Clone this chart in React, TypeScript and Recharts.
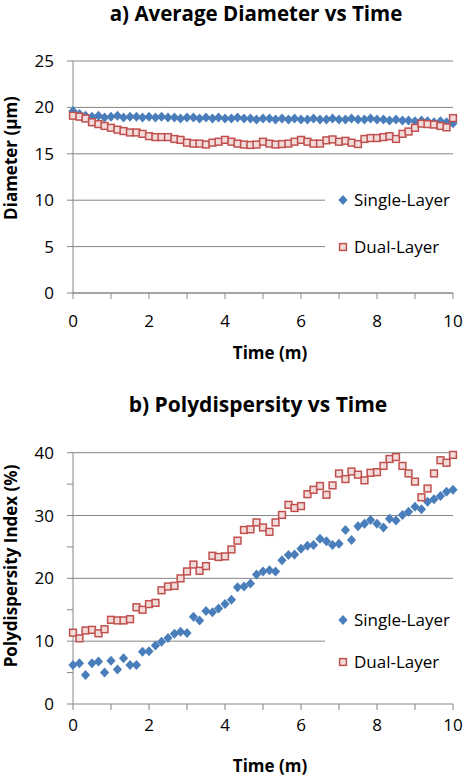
import React from "react";
import {
  CartesianGrid,
  Scatter,
  ScatterChart,
  XAxis,
  YAxis,
} from "recharts";

// time in minutes, sampled every 10 s
const TIMES = [
  0, 0.17, 0.33, 0.5, 0.67, 0.83, 1, 1.17, 1.33, 1.5, 1.67, 1.83, 2, 2.17, 2.33,
  2.5, 2.67, 2.83, 3, 3.17, 3.33, 3.5, 3.67, 3.83, 4, 4.17, 4.33, 4.5, 4.67, 4.83,
  5, 5.17, 5.33, 5.5, 5.67, 5.83, 6, 6.17, 6.33, 6.5, 6.67, 6.83, 7, 7.17, 7.33,
  7.5, 7.67, 7.83, 8, 8.17, 8.33, 8.5, 8.67, 8.83, 9, 9.17, 9.33, 9.5, 9.67, 9.83,
  10,
];

// a) average diameter (µm)
const DIAM_SINGLE = [
  19.6, 19.3, 19.1, 19.0, 19.1, 18.9, 19.0, 19.1, 18.9, 19.0,
  19.0, 18.9, 19.0, 18.9, 19.0, 18.9, 18.9, 18.8, 18.9, 18.9,
  18.8, 18.9, 18.8, 18.9, 18.8, 18.8, 18.9, 18.8, 18.8, 18.7,
  18.8, 18.8, 18.7, 18.8, 18.7, 18.8, 18.7, 18.7, 18.8, 18.7,
  18.7, 18.8, 18.7, 18.7, 18.8, 18.7, 18.7, 18.8, 18.7, 18.7,
  18.6, 18.7, 18.6, 18.6, 18.5, 18.6, 18.5, 18.4, 18.5, 18.4,
  18.3,
];
const DIAM_DUAL = [
  19.1, 19.0, 18.8, 18.4, 18.2, 18.0, 17.8, 17.6, 17.45, 17.3,
  17.3, 17.15, 16.9, 16.8, 16.8, 16.8, 16.6, 16.5, 16.2, 16.1,
  16.1, 16.0, 16.2, 16.3, 16.5, 16.3, 16.1, 16.0, 15.95, 16.0,
  16.3, 16.1, 16.0, 16.05, 16.1, 16.3, 16.5, 16.3, 16.1, 16.1,
  16.45, 16.55, 16.3, 16.4, 16.2, 16.05, 16.6, 16.7, 16.7, 16.8,
  16.9, 16.6, 17.15, 17.4, 17.8, 18.25, 18.2, 18.15, 18.0, 17.85,
  18.85,
];

// b) polydispersity index (%)
const PDI_SINGLE = [
  6.2, 6.5, 4.6, 6.5, 6.75, 5.0, 6.9, 5.5, 7.3, 6.2,
  6.2, 8.3, 8.4, 9.3, 9.9, 10.5, 11.2, 11.5, 11.3, 13.9,
  13.3, 14.8, 14.6, 15.2, 15.9, 16.6, 18.6, 18.7, 19.2, 20.6,
  21.1, 21.3, 21.1, 22.9, 23.7, 23.8, 24.7, 25.2, 25.3, 26.3,
  25.9, 25.3, 25.5, 27.7, 26.1, 28.3, 28.7, 29.3, 28.7, 28.1,
  29.5, 29.2, 30.1, 30.6, 31.4, 31.0, 32.2, 32.6, 33.1, 33.8,
  34.1,
];
const PDI_DUAL = [
  11.35, 10.45, 11.7, 11.8, 11.25, 11.9, 13.4, 13.3, 13.3, 13.5,
  15.4, 15.0, 15.9, 16.1, 18.1, 18.7, 18.8, 20.0, 21.1, 22.2,
  21.2, 21.95, 23.6, 23.4, 23.5, 24.6, 26.0, 27.7, 27.8, 28.9,
  28.1, 27.4, 28.9, 30.1, 31.7, 31.2, 31.5, 33.4, 34.1, 34.7,
  33.3, 34.8, 36.7, 35.8, 37.0, 36.5, 35.6, 36.8, 36.9, 37.9,
  39.0, 39.3, 37.9, 36.7, 35.4, 32.9, 34.3, 36.7, 38.8, 38.4,
  39.65,
];

const X_TICKS = [0, 1, 2, 3, 4, 5, 6, 7, 8, 9, 10];
const DIAM_TICKS = [0, 5, 10, 15, 20, 25];
const PDI_TICKS = [0, 5, 10, 15, 20, 25, 30, 35, 40];
const PDI_GRID = [10, 20, 30, 40];

const SERIES_NAMES = ["Single-Layer", "Dual-Layer"];

const BLUE = "#4a7ebb";
const RED = "#c0504d";
const PINK = "#f2dbdb";
const GRAY = "#868686";
const FONT = "'Open Sans', sans-serif";

const toPoints = (vals: number[]) => TIMES.map((t, i) => ({ t, v: vals[i] }));

const Diamond = (p: any) => {
  const { cx, cy } = p;
  if (cx == null || cy == null) return null;
  return (
    <path
      d={`M${cx},${cy - 5}L${cx + 4.6},${cy}L${cx},${cy + 5}L${cx - 4.6},${cy}Z`}
      fill={BLUE}
    />
  );
};

const Square = (p: any) => {
  const { cx, cy } = p;
  if (cx == null || cy == null) return null;
  return (
    <rect
      x={cx - 3.4}
      y={cy - 3.4}
      width={6.8}
      height={6.8}
      fill={PINK}
      stroke={RED}
      strokeWidth={1.5}
    />
  );
};

const tickStyle = { fill: "#000", fontSize: 17, fontFamily: FONT };

type PanelProps = {
  top: number;
  height: number;
  plotTop: number;
  plotBottom: number;
  yMax: number;
  yTicks: number[];
  yLabelEvery: number;
  grid?: number[];
  yTitle: string;
  yTitleShift: number;
  xTickMargin: number;
  xTitleDrop: number;
  single: number[];
  dual: number[];
};

function Panel(p: PanelProps) {
  return (
    <div style={{ position: "absolute", left: 0, top: p.top }}>
      <ScatterChart
        width={464}
        height={p.height}
        margin={{ top: p.plotTop, right: 11, bottom: 0, left: 0 }}
      >
        <CartesianGrid
          vertical={false}
          stroke={GRAY}
          horizontalValues={p.grid}
        />
        <XAxis
          type="number"
          dataKey="t"
          domain={[0, 10]}
          ticks={X_TICKS}
          interval={0}
          height={p.height - p.plotBottom}
          stroke={GRAY}
          tickSize={6}
          tickMargin={p.xTickMargin}
          tick={tickStyle}
          tickFormatter={(v) => (v % 2 === 0 ? String(v) : "")}
          label={{
            content: (lp: any) => {
              const vb = lp.viewBox || { x: 73, y: p.plotBottom, width: 380 };
              return (
                <text
                  x={vb.x + vb.width / 2 + 7}
                  y={vb.y + p.xTitleDrop}
                  textAnchor="middle"
                  fontFamily={FONT}
                  fontWeight={700}
                  fontSize={17}
                  fill="#000"
                >
                  Time (m)
                </text>
              );
            },
          }}
        />
        <YAxis
          type="number"
          dataKey="v"
          domain={[0, p.yMax]}
          ticks={p.yTicks}
          interval={0}
          width={73}
          stroke={GRAY}
          tickSize={6}
          tickMargin={13}
          tick={tickStyle}
          tickFormatter={(v) => (v % p.yLabelEvery === 0 ? String(v) : "")}
          label={{
            content: (lp: any) => {
              const vb = lp.viewBox || { y: p.plotTop, height: p.plotBottom - p.plotTop };
              const cy = vb.y + vb.height / 2 + p.yTitleShift;
              return (
                <text
                  x={17}
                  y={cy}
                  transform={`rotate(-90 17 ${cy})`}
                  textAnchor="middle"
                  fontFamily={FONT}
                  fontWeight={700}
                  fontSize={17}
                  fill="#000"
                >
                  {p.yTitle}
                </text>
              );
            },
          }}
        />
        <Scatter
          name={SERIES_NAMES[0]}
          data={toPoints(p.single)}
          shape={Diamond}
          isAnimationActive={false}
        />
        <Scatter
          name={SERIES_NAMES[1]}
          data={toPoints(p.dual)}
          shape={Square}
          isAnimationActive={false}
        />
      </ScatterChart>
    </div>
  );
}

function LegendBox({ top, rowA, rowB }: { top: number; rowA: number; rowB: number }) {
  return (
    <g>
      <rect x={325} y={top} width={139} height={rowB - rowA + 40} fill="#fff" />
      <path
        d={`M343,${rowA - 5}L347.6,${rowA}L343,${rowA + 5}L338.4,${rowA}Z`}
        fill={BLUE}
      />
      <text x={354} y={rowA + 6} fontSize={17} fontFamily={FONT} fill="#000">
        {SERIES_NAMES[0]}
      </text>
      <rect
        x={339.6}
        y={rowB - 3.4}
        width={6.8}
        height={6.8}
        fill={PINK}
        stroke={RED}
        strokeWidth={1.5}
      />
      <text x={354} y={rowB + 6} fontSize={17} fontFamily={FONT} fill="#000">
        {SERIES_NAMES[1]}
      </text>
    </g>
  );
}

export default function App() {
  return (
    <div
      style={{
        position: "absolute",
        left: 0,
        top: 0,
        width: 464,
        height: 778,
        background: "#fff",
        fontFamily: FONT,
      }}
    >
      <Panel
        top={0}
        height={380}
        plotTop={61}
        plotBottom={293}
        yMax={25}
        yTicks={DIAM_TICKS}
        yLabelEvery={5}
        yTitle="Diameter (µm)"
        yTitleShift={-19}
        xTickMargin={16}
        xTitleDrop={66}
        single={DIAM_SINGLE}
        dual={DIAM_DUAL}
      />
      <Panel
        top={390}
        height={388}
        plotTop={62.7}
        plotBottom={314}
        yMax={40}
        yTicks={PDI_TICKS}
        yLabelEvery={10}
        grid={PDI_GRID}
        yTitle="Polydispersity Index (%)"
        yTitleShift={-12.4}
        xTickMargin={9}
        xTitleDrop={68}
        single={PDI_SINGLE}
        dual={PDI_DUAL}
      />
      <svg
        width={464}
        height={778}
        style={{ position: "absolute", left: 0, top: 0, pointerEvents: "none" }}
      >
        <text
          x={256}
          y={21}
          textAnchor="middle"
          fontSize={20.5}
          fontWeight={700}
          fontFamily={FONT}
          fill="#000"
        >
          a) Average Diameter vs Time
        </text>
        <text
          x={258}
          y={412}
          textAnchor="middle"
          fontSize={21}
          fontWeight={700}
          fontFamily={FONT}
          fill="#000"
        >
          b) Polydispersity vs Time
        </text>
        <LegendBox top={180} rowA={200} rowB={247} />
        <LegendBox top={600} rowA={620} rowB={662} />
      </svg>
    </div>
  );
}
